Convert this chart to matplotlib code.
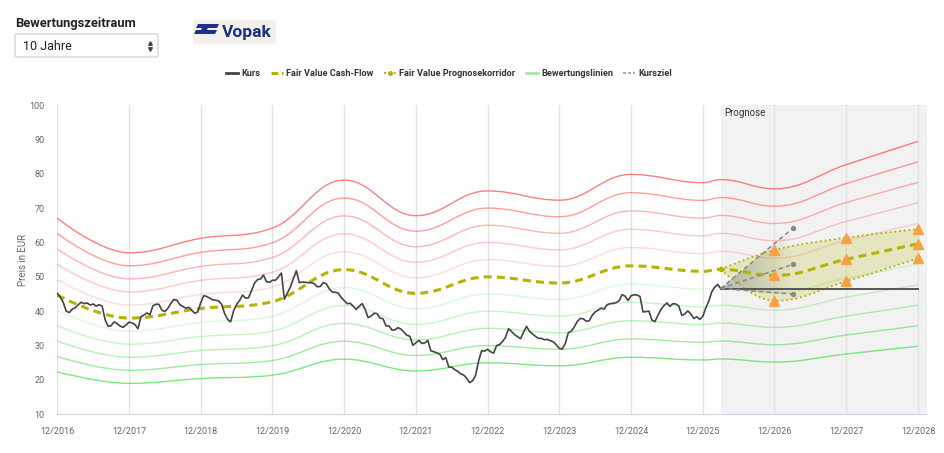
import numpy as np
import matplotlib
matplotlib.use("Agg")
import matplotlib.pyplot as plt
from matplotlib.path import Path
from matplotlib.patches import PathPatch, Polygon, Rectangle, FancyBboxPatch
from matplotlib.lines import Line2D

plt.rcParams['font.family'] = ['Roboto', 'DejaVu Sans']

# --- data -----------------------------------------------------------------
years = ["12/2016", "12/2017", "12/2018", "12/2019", "12/2020", "12/2021", "12/2022",
         "12/2023", "12/2024", "12/2025", "12/2026", "12/2027", "12/2028"]
year_pos = [2016.917 + k for k in range(len(years))]

# share price, half-monthly readings starting 12/2016
kurs = [
    45.2, 44.1, 42.5, 40.0, 39.6, 40.6, 41.0, 41.9, 42.6, 42.2,
    42.4, 41.8, 42.1, 41.5, 41.9, 41.5, 37.5, 35.6, 35.8, 36.9,
    36.4, 35.7, 35.3, 36.0, 36.8, 36.6, 36.1, 34.9, 38.4, 38.9,
    39.5, 39.0, 41.6, 42.0, 42.0, 40.3, 39.9, 40.8, 42.3, 43.4,
    43.2, 41.9, 41.4, 40.9, 41.1, 40.3, 39.4, 39.8, 42.5, 44.5,
    44.3, 43.8, 43.3, 43.2, 43.0, 42.0, 39.3, 37.6, 36.9, 40.1,
    42.0, 43.1, 44.7, 43.8, 43.9, 46.0, 48.2, 49.2, 49.4, 50.5,
    48.6, 48.4, 49.0, 49.0, 50.0, 51.1, 43.5, 45.3, 47.0, 49.5,
    51.8, 48.3, 48.5, 48.4, 48.3, 48.3, 48.0, 47.1, 47.2, 48.3,
    48.0, 46.5, 45.6, 45.5, 45.3, 44.0, 43.1, 42.2, 42.3, 41.5,
    40.5, 41.4, 42.2, 40.6, 38.1, 38.6, 39.4, 39.3, 38.0, 37.8,
    35.7, 35.7, 34.5, 34.6, 35.2, 34.8, 33.9, 33.0, 32.7, 30.1,
    30.8, 31.5, 30.6, 30.8, 31.5, 28.5, 28.2, 27.9, 27.5, 25.9,
    26.5, 23.8, 23.7, 23.0, 22.5, 21.8, 21.4, 20.5, 19.2, 19.8,
    21.4, 25.6, 28.5, 28.4, 28.9, 28.2, 27.8, 30.0, 30.3, 31.2,
    32.4, 34.9, 34.1, 33.2, 32.6, 32.0, 33.8, 35.6, 34.2, 33.4,
    32.7, 32.1, 32.1, 31.7, 31.8, 31.4, 31.1, 30.2, 29.2, 29.0,
    30.6, 33.7, 34.2, 35.4, 37.0, 37.9, 37.8, 37.1, 37.2, 38.8,
    39.8, 40.3, 40.9, 40.6, 41.9, 42.2, 42.3, 42.5, 43.0, 44.8,
    44.4, 43.1, 44.5, 44.8, 44.7, 44.3, 39.8, 39.9, 40.0, 37.4,
    37.0, 38.8, 40.5, 41.6, 42.4, 41.4, 42.2, 42.1, 41.5, 38.8,
    39.2, 40.1, 39.2, 37.9, 38.4, 37.6, 38.5, 40.9, 42.9, 45.6,
    47.0, 47.8, 46.6]
kurs_x = 2016.917 + np.arange(len(kurs)) / 24

prognose_start = 2026.17

# fair value cash-flow (yearly, plus today)
fv_x = [2016.917, 2017.917, 2018.917, 2019.917, 2020.917, 2021.917, 2022.917,
        2023.917, 2024.917, 2025.917, prognose_start, 2026.917, 2027.917, 2028.917]
fv_y = [44.7, 38.0, 40.8, 42.8, 52.1, 45.2, 50.0, 48.2, 53.2, 51.6, 52.2, 50.4, 55.1, 59.6]

# fair value forecast corridor
corr_x = [prognose_start, 2026.917, 2027.917, 2028.917]
corr_mid = [52.2, 50.4, 55.1, 59.6]
corr_hi = [52.2, 57.8, 61.4, 63.9]
corr_lo = [52.2, 43.0, 48.7, 55.4]

# valuation lines (multiples of fair value)
red_mult = [1.5, 1.4, 1.3, 1.2, 1.1]
green_mult = [0.9, 0.8, 0.7, 0.6, 0.5]
red_alpha = [0.66, 0.5, 0.38, 0.28, 0.19]
green_alpha = [0.19, 0.28, 0.38, 0.5, 0.66]

# analyst price targets, 12 months
target_x = 2027.17
targets = [64.1, 53.6, 45.0]


def spline_path(xs, ys):
    # highcharts style spline -> cubic bezier path
    n = len(xs)
    verts = [(xs[0], ys[0])]
    codes = [Path.MOVETO]
    prev = (xs[0], ys[0])
    for i in range(1, n):
        x, y = xs[i], ys[i]
        lx, ly = xs[i - 1], ys[i - 1]
        if i < n - 1:
            nx, ny = xs[i + 1], ys[i + 1]
            lcx = (1.5 * x + lx) / 2.5
            lcy = (1.5 * y + ly) / 2.5
            rcx = (1.5 * x + nx) / 2.5
            rcy = (1.5 * y + ny) / 2.5
            c = ((rcy - lcy) * (rcx - x)) / (rcx - lcx) + y - rcy
            lcy += c
            rcy += c
            if lcy > ly and lcy > y:
                lcy = max(ly, y); rcy = 2 * y - lcy
            elif lcy < ly and lcy < y:
                lcy = min(ly, y); rcy = 2 * y - lcy
            if rcy > ny and rcy > y:
                rcy = max(ny, y); lcy = 2 * y - rcy
            elif rcy < ny and rcy < y:
                rcy = min(ny, y); lcy = 2 * y - rcy
        else:
            lcx, lcy, rcx, rcy = x, y, x, y
        verts += [prev, (lcx, lcy), (x, y)]
        codes += [Path.CURVE4] * 3
        prev = (rcx, rcy)
    return Path(verts, codes)


fig = plt.figure(figsize=(9.44, 4.53), dpi=100)
ax = fig.add_axes([0.0607, 0.0854, 0.921, 0.6828])

olive = '#b3b300'

# forecast background
ax.axvspan(prognose_start, 2029.04, color='#f2f2f2', zorder=0.1, lw=0)

# valuation lines
fv_path = spline_path(fv_x, fv_y)
for m, a in zip(red_mult, red_alpha):
    p = Path(fv_path.vertices * [1, m], fv_path.codes)
    ax.add_patch(PathPatch(p, fill=False, edgecolor='#ff3c3c', alpha=a, lw=1.0, zorder=1))
for m, a in zip(green_mult, green_alpha):
    p = Path(fv_path.vertices * [1, m], fv_path.codes)
    ax.add_patch(PathPatch(p, fill=False, edgecolor='#3cdc3c', alpha=a, lw=1.0, zorder=1))

# corridor fill
up = spline_path(corr_x, corr_hi)
lo = spline_path(corr_x, corr_lo)
fill_verts = np.vstack([up.vertices, lo.vertices[::-1]])
fill_codes = list(up.codes) + [Path.LINETO] + [Path.CURVE4] * (len(lo.vertices) - 1)
ax.add_patch(PathPatch(Path(fill_verts, fill_codes), facecolor=olive, alpha=0.2, lw=0, zorder=2))
ax.add_patch(PathPatch(up, fill=False, edgecolor=olive, lw=1.3, ls=(0, (1, 1.6)), zorder=3))
ax.add_patch(PathPatch(lo, fill=False, edgecolor=olive, lw=1.3, ls=(0, (1, 1.6)), zorder=3))

# price target shading, fading to the right
tri = Polygon([(kurs_x[-1], kurs[-1]), (target_x, targets[0]), (target_x, targets[-1])],
              closed=True, facecolor='none', edgecolor='none')
ax.add_patch(tri)
grad = np.zeros((1, 100, 4))
grad[..., :3] = 0.45
grad[..., 3] = np.linspace(0.45, 0.0, 100)
im = ax.imshow(grad, extent=[kurs_x[-1], target_x, 40, 70], aspect='auto', zorder=2.5,
               interpolation='bilinear')
im.set_clip_path(tri)

# fair value line
ax.add_patch(PathPatch(fv_path, fill=False, edgecolor=olive, lw=2.2, ls=(0, (2.6, 1.7)), zorder=3.5))

# price
ax.plot(kurs_x, kurs, color='#444444', lw=1.2, zorder=4)
ax.plot([kurs_x[-1], year_pos[-1]], [kurs[-1], kurs[-1]], color='#555555', lw=1.4, zorder=4)

# price targets
for t in targets:
    ax.plot([kurs_x[-1], target_x], [kurs[-1], t], color='#888888', lw=1.1,
            ls=(0, (3, 2)), zorder=4.5)
    ax.plot([target_x], [t], 'o', color='#888888', ms=2.8, zorder=4.5)

# corridor markers
ax.plot([corr_x[0]], [corr_mid[0]], 'o', color=olive, ms=3, zorder=5)
for ys in (corr_hi, corr_mid, corr_lo):
    ax.plot(corr_x[1:], ys[1:], ls='none', marker='^', color='#f7a144', ms=6.5, zorder=5)

ax.text(2026.22, 99, 'Prognose', fontsize=7, color='#333333', va='top', ha='left', zorder=6)

ax.set_xlim(2016.917, 2029.04)
ax.set_ylim(10, 100)
ax.set_xticks(year_pos)
ax.set_xticklabels(years)
ax.set_yticks(range(10, 101, 10))
ax.tick_params(axis='both', length=0, labelsize=6.5, labelcolor='#666666')
ax.tick_params(axis='x', pad=9)
ax.tick_params(axis='y', pad=9)
ax.grid(axis='x', color='#e3e3e3', lw=1)
ax.set_axisbelow(True)
for s in ('top', 'right', 'left'):
    ax.spines[s].set_visible(False)
ax.spines['bottom'].set_color('#ccd6eb')
ax.set_ylabel('Preis in EUR', fontsize=7, color='#666666', labelpad=1)

# legend
handles = [
    Line2D([], [], color='#444444', lw=2),
    Line2D([], [], color=olive, lw=2.2, ls=(0, (2.2, 1.2))),
    Line2D([], [], color=olive, lw=1.4, ls=(0, (1, 1.5)), marker='o', ms=2.5),
    Line2D([], [], color='#a8e8a8', lw=2),
    Line2D([], [], color='#999999', lw=1.2, ls=(0, (1.8, 1.2))),
]
labels = ['Kurs', 'Fair Value Cash-Flow', 'Fair Value Prognosekorridor',
          'Bewertungslinien', 'Kursziel']
leg = fig.legend(handles, labels, loc='center', bbox_to_anchor=(0.476, 0.837), ncol=5,
                 frameon=False, handlelength=1.3, handletextpad=0.4, columnspacing=1.1,
                 prop={'size': 6.6, 'weight': 'bold'}, numpoints=1)
for t in leg.get_texts():
    t.set_color('#333333')

# header
W, H = 944, 453
fig.text(15 / W, 1 - 24 / H, 'Bewertungszeitraum', fontsize=9.3, fontweight='bold',
         color='#222222', va='center', ha='left')
fig.add_artist(FancyBboxPatch((15 / W, 1 - 57 / H), 143 / W, 23 / H,
                              boxstyle='round,pad=0,rounding_size=0.003',
                              transform=fig.transFigure, facecolor='white',
                              edgecolor='#cccccc', lw=0.8))
fig.text(23 / W, 1 - 46 / H, '10 Jahre', fontsize=9, color='#222222', va='center', ha='left')
fig.add_artist(Line2D([150 / W], [1 - 42.5 / H], marker='^', ms=2.6, color='#444444',
                      transform=fig.transFigure))
fig.add_artist(Line2D([150 / W], [1 - 49 / H], marker='v', ms=2.6, color='#444444',
                      transform=fig.transFigure))

# logo
fig.add_artist(Rectangle((193 / W, 1 - 44 / H), 83 / W, 24 / H, transform=fig.transFigure,
                         facecolor='#f4f0ea', edgecolor='none'))
blue = '#1d2f86'
for pts in ([(198, 24), (219, 24), (217, 28), (196, 28)],
            [(196, 30), (217, 30), (215, 34), (194, 34)],
            [(203, 26), (209, 26), (206, 32), (200, 32)]):
    fig.add_artist(Polygon([(x / W, 1 - y / H) for x, y in pts], closed=True,
                           transform=fig.transFigure, facecolor=blue, edgecolor='none'))
fig.text(222 / W, 1 - 32.5 / H, 'Vopak', fontsize=12.5, fontweight='bold', color=blue,
         va='center', ha='left')

fig.savefig('out.png', dpi=100)
